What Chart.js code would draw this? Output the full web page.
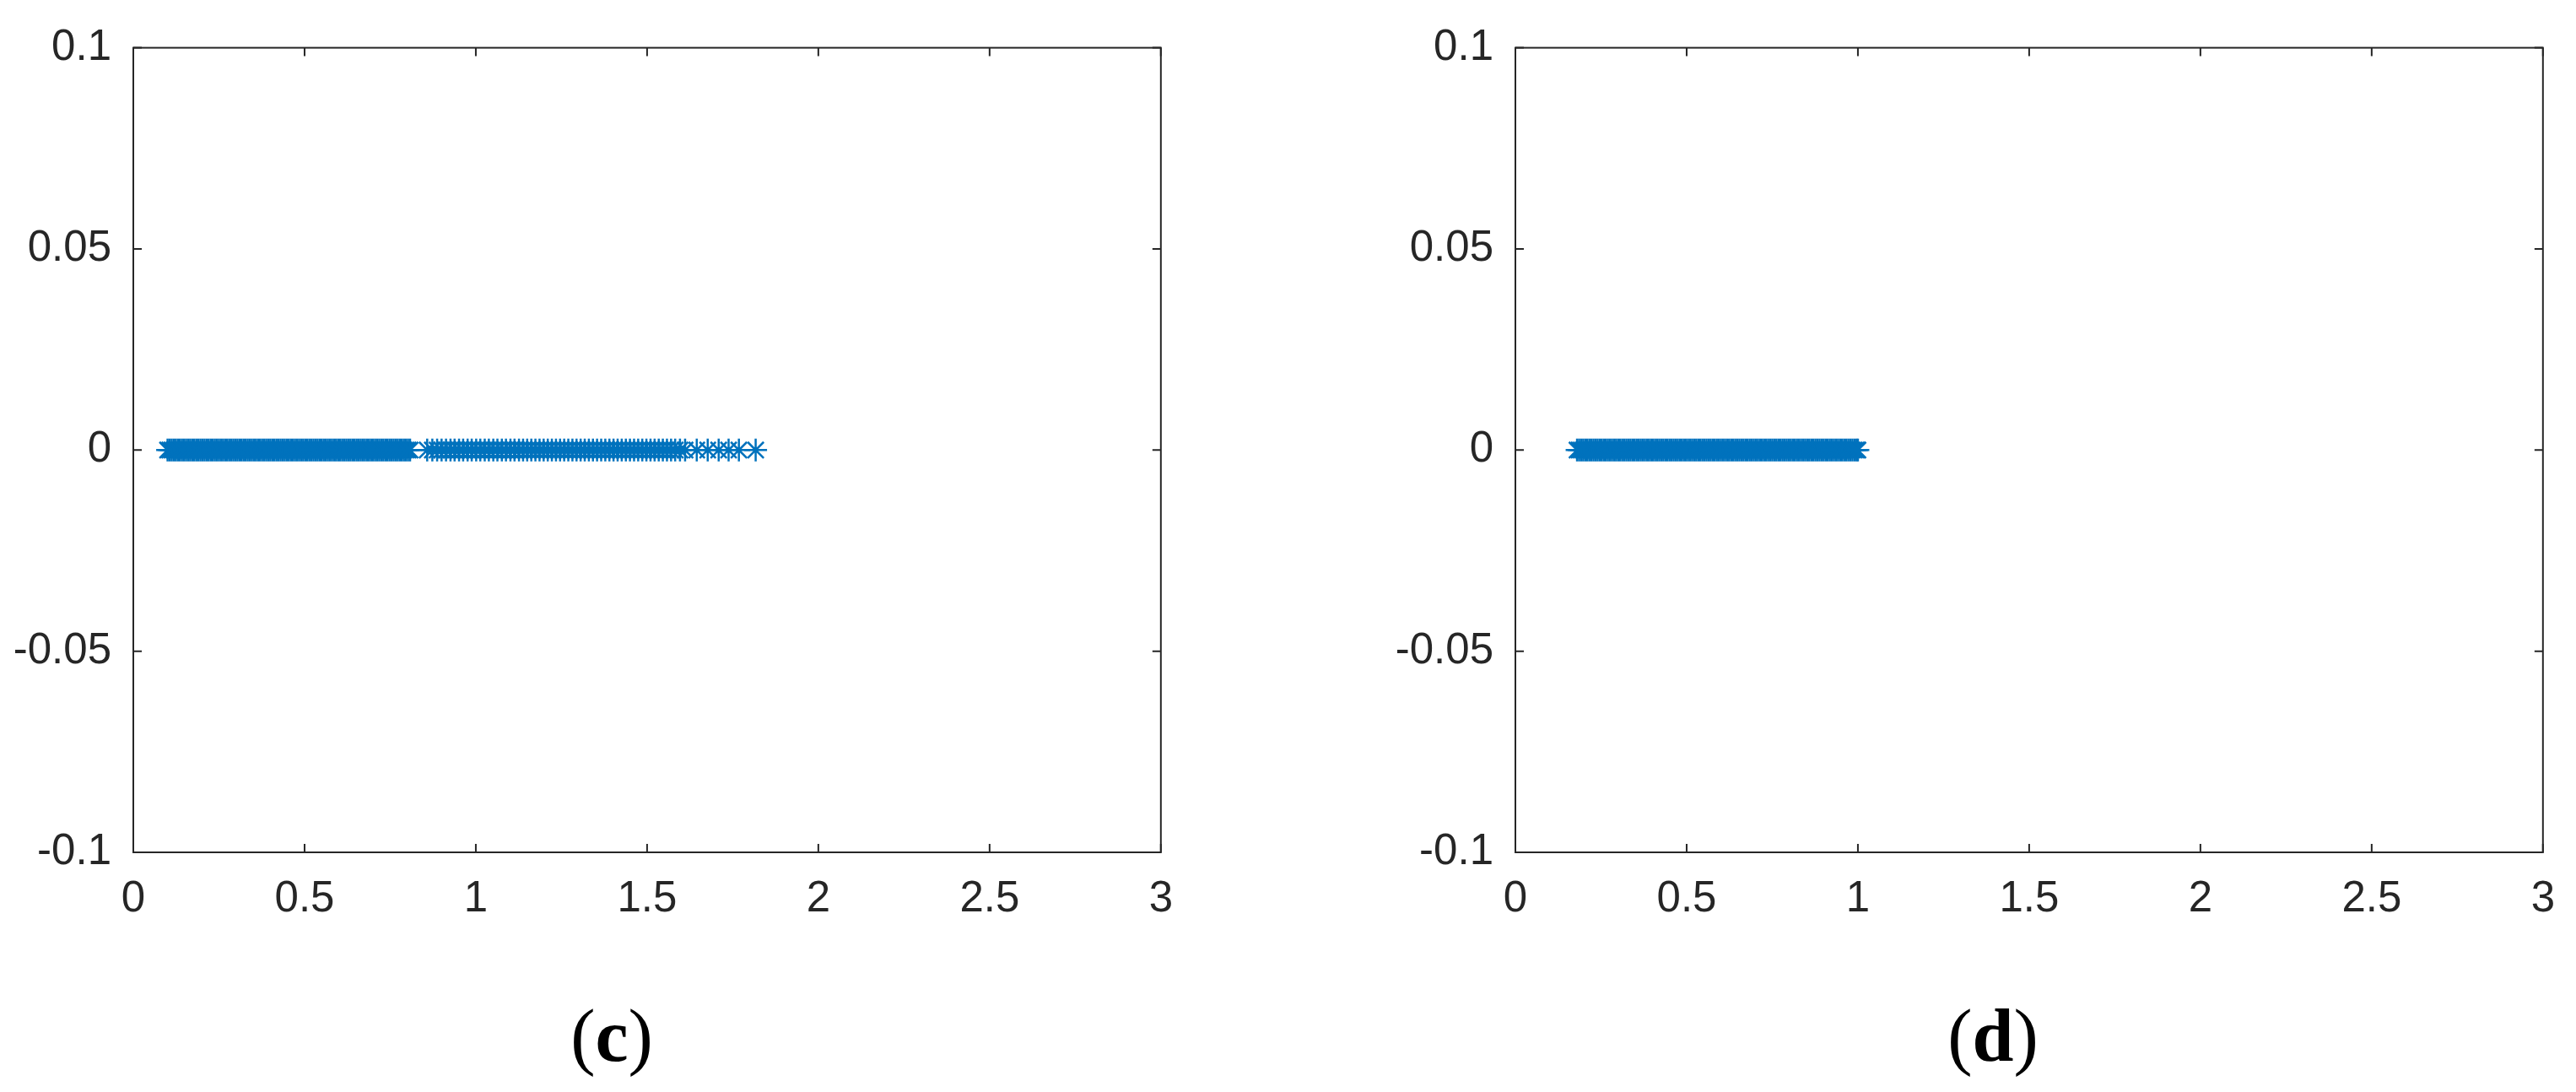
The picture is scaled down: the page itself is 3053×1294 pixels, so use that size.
<!DOCTYPE html>
<html lang="en">
<head>
  <meta charset="UTF-8" />
  <title>Panels (c) and (d)</title>
  <script src="https://cdn.jsdelivr.net/npm/chart.js"></script>
  <style>
    body { margin: 0; background: #fff; width: 3053px; height: 1294px; overflow: hidden; position: relative; }
    canvas { position: absolute; top: 0; }
    #chartC { left: 0; }
    #chartD { left: 1638px; }
    .cap { position: absolute; top: 1184px; width: 300px; text-align: center; font-family: "Liberation Serif", "Times New Roman", serif; font-size: 88px; line-height: 88px; color: #000; }
    .cap b { font-weight: bold; }
  </style>
</head>
<body>
  <canvas id="chartC" width="1415" height="1140"></canvas>
  <canvas id="chartD" width="1415" height="1140"></canvas>
  <div class="cap" style="left:575px">(<b>c</b>)</div>
  <div class="cap" style="left:2212px">(<b>d</b>)</div>

  <script>
    // axis ticks (same for both panels)
    const xTickVals = [0, 0.5, 1, 1.5, 2, 2.5, 3];
    const xTickLabels = ["0", "0.5", "1", "1.5", "2", "2.5", "3"];
    const yTickVals = [-0.1, -0.05, 0, 0.05, 0.1];
    const yTickLabels = ["-0.1", "-0.05", "0", "0.05", "0.1"];

    // panel (c): x positions of the markers, all on y = 0
    const cX = [
      0.100,0.106,0.112,0.118,0.124,0.130,0.136,0.142,0.148,0.154,
      0.160,0.166,0.172,0.178,0.184,0.190,0.196,0.202,0.208,0.214,
      0.220,0.226,0.232,0.238,0.244,0.250,0.256,0.262,0.268,0.274,
      0.280,0.286,0.292,0.298,0.304,0.310,0.316,0.322,0.328,0.334,
      0.340,0.346,0.352,0.358,0.364,0.370,0.376,0.382,0.388,0.394,
      0.400,0.406,0.412,0.418,0.424,0.430,0.436,0.442,0.448,0.454,
      0.460,0.466,0.472,0.478,0.484,0.490,0.496,0.502,0.508,0.514,
      0.520,0.526,0.532,0.538,0.544,0.550,0.556,0.562,0.568,0.574,
      0.580,0.586,0.592,0.598,0.604,0.610,0.616,0.622,0.628,0.634,
      0.640,0.646,0.652,0.658,0.664,0.670,0.676,0.682,0.688,0.694,
      0.700,0.706,0.712,0.718,0.724,0.730,0.736,0.742,0.748,0.754,
      0.760,0.766,0.772,0.778,0.784,0.790,0.796,0.802,0.808,
      0.858,0.873,0.887,0.900,0.913,0.926,0.938,0.951,0.963,0.976,
      0.988,1.001,1.013,1.026,1.038,1.051,1.063,1.076,1.088,1.101,
      1.113,1.126,1.138,1.150,1.162,1.174,1.186,1.198,1.210,1.222,
      1.234,1.246,1.258,1.270,1.282,1.294,1.306,1.318,1.330,1.342,
      1.354,1.366,1.378,1.390,1.402,1.414,1.426,1.438,1.450,1.462,
      1.474,1.486,1.498,1.510,1.522,1.534,1.546,1.558,1.570,1.582,
      1.596,1.611,1.645,1.677,1.709,1.738,1.768,1.817
    ];

    // panel (d): x positions of the markers, all on y = 0
    const dX = [
      0.180,0.186,0.192,0.198,0.204,0.210,0.216,0.222,0.228,0.234,
      0.240,0.246,0.252,0.258,0.264,0.270,0.276,0.282,0.288,0.294,
      0.300,0.306,0.312,0.318,0.324,0.330,0.336,0.342,0.348,0.354,
      0.360,0.366,0.372,0.378,0.384,0.390,0.396,0.402,0.408,0.414,
      0.420,0.426,0.432,0.438,0.444,0.450,0.456,0.462,0.468,0.474,
      0.480,0.486,0.492,0.498,0.504,0.510,0.516,0.522,0.528,0.534,
      0.540,0.546,0.552,0.558,0.564,0.570,0.576,0.582,0.588,0.594,
      0.600,0.606,0.612,0.618,0.624,0.630,0.636,0.642,0.648,0.654,
      0.660,0.666,0.672,0.678,0.684,0.690,0.696,0.702,0.708,0.714,
      0.720,0.726,0.732,0.738,0.744,0.750,0.756,0.762,0.768,0.774,
      0.780,0.786,0.792,0.798,0.804,0.810,0.816,0.822,0.828,0.834,
      0.840,0.846,0.852,0.858,0.864,0.870,0.876,0.882,0.888,0.894,
      0.900,0.906,0.912,0.918,0.924,0.930,0.936,0.942,0.948,0.954,
      0.960,0.966,0.972,0.978,0.984,0.990,0.996,1.000
    ];

    const blue = "#0072BD";
    const axisColor = "#262626";
    const tickLen = 10;

    // matlab style box with inward ticks on all four sides
    const boxPlugin = {
      id: "matlabBox",
      afterDatasetsDraw(chart) {
        const { ctx, chartArea: a, scales } = chart;
        ctx.save();
        ctx.strokeStyle = axisColor;
        ctx.lineWidth = 2;
        ctx.strokeRect(a.left, a.top, a.right - a.left, a.bottom - a.top);
        ctx.beginPath();
        xTickVals.forEach(v => {
          const px = scales.x.getPixelForValue(v);
          ctx.moveTo(px, a.bottom); ctx.lineTo(px, a.bottom - tickLen);
          ctx.moveTo(px, a.top); ctx.lineTo(px, a.top + tickLen);
        });
        yTickVals.forEach(v => {
          const py = scales.y.getPixelForValue(v);
          ctx.moveTo(a.left, py); ctx.lineTo(a.left + tickLen, py);
          ctx.moveTo(a.right, py); ctx.lineTo(a.right - tickLen, py);
        });
        ctx.stroke();
        ctx.restore();
      }
    };

    function makePanel(id, xs) {
      const tickFont = { family: "'Liberation Sans', Arial, sans-serif", size: 51 };
      return new Chart(document.getElementById(id), {
        type: "scatter",
        data: {
          datasets: [{
            data: xs.map(v => ({ x: v, y: 0 })),
            pointStyle: "star",
            pointRadius: 13.5,
            borderColor: blue,
            backgroundColor: blue,
            borderWidth: 2.5,
            showLine: false
          }]
        },
        options: {
          responsive: false,
          animation: false,
          devicePixelRatio: 1,
          layout: { padding: { top: 50, right: 38, left: 0, bottom: 0 } },
          plugins: { legend: { display: false }, tooltip: { enabled: false } },
          scales: {
            x: {
              type: "linear", min: 0, max: 3,
              grid: { display: false, drawTicks: false },
              border: { display: false },
              afterBuildTicks: s => { s.ticks = xTickVals.map(v => ({ value: v })); },
              afterFit: s => { s.height = 130; },
              ticks: {
                color: axisColor, font: tickFont, padding: 25, maxRotation: 0,
                callback: v => xTickLabels[xTickVals.indexOf(v)]
              }
            },
            y: {
              type: "linear", min: -0.1, max: 0.1,
              grid: { display: false, drawTicks: false },
              border: { display: false },
              afterBuildTicks: s => { s.ticks = yTickVals.map(v => ({ value: v })); },
              afterFit: s => { s.width = 158; },
              ticks: {
                color: axisColor, font: tickFont, padding: 26,
                callback: v => yTickLabels[yTickVals.indexOf(v)]
              }
            }
          }
        },
        plugins: [boxPlugin]
      });
    }

    makePanel("chartC", cX);
    makePanel("chartD", dX);
  </script>
</body>
</html>
